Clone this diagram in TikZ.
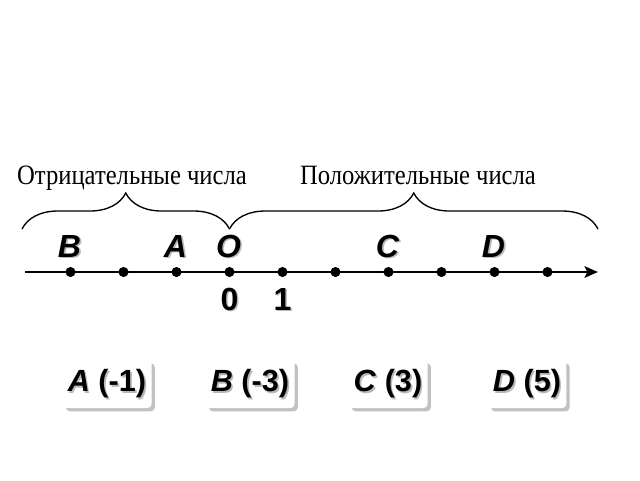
\documentclass[tikz,border=0pt]{standalone}
\usepackage{fontspec}
\setmainfont{Liberation Serif}
\newfontfamily\capfont[FakeStretch=0.88]{Liberation Serif}
\newfontfamily\lblfont{Liberation Sans}
\usetikzlibrary{arrows.meta,decorations.pathreplacing,shadows}

\begin{document}
\begin{tikzpicture}[x=0.75pt,y=-0.75pt]
% Configurable parameters
\def\u{53}	% one unit on the axis
\def\ox{229.5}	% position of the origin
\def\ly{272}	% height of the axis
\def\by{229}	% ends of the braces
\def\sh{1.6}	% text shadow offset

% Styles
\tikzstyle{axis}=[line width=2.2pt,-{Stealth[length=10pt,width=8.5pt,inset=2pt]}]
\tikzstyle{brace}=[line width=1pt,decorate,decoration={brace,amplitude=27pt}]
\tikzstyle{point}=[fill=black]
\tikzstyle{letter}=[font=\lblfont\bfseries\itshape\fontsize{24}{28}\selectfont]
\tikzstyle{number}=[font=\lblfont\bfseries\fontsize{24}{28}\selectfont]
\tikzstyle{caption}=[font=\capfont\fontsize{21}{24}\selectfont,anchor=base]
\tikzstyle{answer}=[font=\lblfont\bfseries\fontsize{23}{26}\selectfont,fill=white,
  rounded corners=3pt,inner xsep=4pt,minimum height=36pt,
  drop shadow={shadow xshift=2.5pt,shadow yshift=-2.5pt,fill=gray!60,opacity=.8}]
\tikzstyle{ghost}=[text=gray!55]

\useasboundingbox (0,0) rectangle (640,480);

% Coordinates and points.
\coordinate (start) at (25,\ly);	% Left end of the axis.
\coordinate (end) at (598,\ly);	% Arrow tip.
\coordinate (nl) at (22,\by);	% Left end of the left brace.
\coordinate (nm) at (\ox,\by);	% Meeting point of both braces.
\coordinate (nr) at (598,\by);	% Right end of the right brace.

% Draw the axis and its marks.
\draw[axis] (start) -- (end);
\foreach \i in {-3,...,6}
  \fill[point] (\ox+\i*\u,\ly) coordinate (p\i) circle (3.8pt);

% Braces and their captions.
\draw[brace] (nl) -- (nm);
\draw[brace] (nm) -- (nr);
\node[caption] (neg) at (132,184) {Отрицательные числа};
\node[caption] (pos) at (418,184) {Положительные числа};

% Letters above the points, with their shadows.
\foreach \n/\i in {B/-3,A/-1,O/0,C/3,D/5}{
  \node[letter,ghost] (s\n) at (\ox+\i*\u+\sh-1,246+\sh) {\n};
  \node[letter] (l\n) at (\ox+\i*\u-1,246) {\n};
}

% Numbers below the axis.
\foreach \n in {0,1}{
  \node[number,ghost] (sn\n) at (\ox+\n*\u+\sh,299+\sh) {\n};
  \node[number] (n\n) at (\ox+\n*\u,299) {\n};
}

% Answers.
\foreach \n/\v/\x in {A/-1/107,B/-3/250,C/3/388,D/5/527}{
  \node[answer] (b\n) at (\x,384) {\phantom{\textit{\n} (\v)}};
  \node[font=\lblfont\bfseries\fontsize{23}{26}\selectfont,ghost] (t\n s) at (\x+\sh,384+\sh) {\textit{\n} (\v)};
  \node[font=\lblfont\bfseries\fontsize{23}{26}\selectfont] (t\n) at (\x,384) {\textit{\n} (\v)};
}
\end{tikzpicture}
\end{document}
